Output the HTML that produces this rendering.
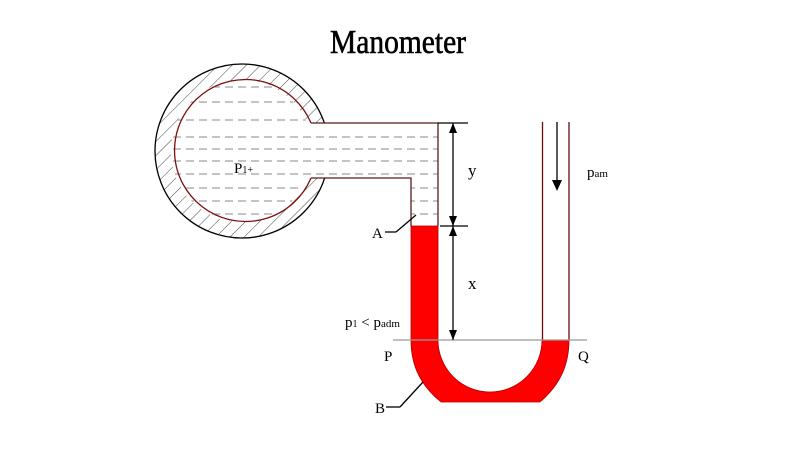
<!DOCTYPE html>
<html><head><meta charset="utf-8"><style>html,body{margin:0;padding:0;background:#fff}svg{display:block}</style></head>
<body>
<svg width="800" height="450" viewBox="0 0 800 450" xmlns="http://www.w3.org/2000/svg">
<defs>
<pattern id="hatch" patternUnits="userSpaceOnUse" width="10" height="10" patternTransform="rotate(45)">
<line x1="0" y1="0" x2="0" y2="10" stroke="#333" stroke-width="0.9"/>
</pattern>
<clipPath id="inner">
<circle cx="242" cy="151" r="71"/>
<rect x="300" y="123" width="138" height="55"/>
<rect x="411" y="170" width="27" height="56"/>
</clipPath>
<clipPath id="ring">
<path d="M242,64 A87,87 0 1,0 242,238 A87,87 0 1,0 242,64 Z M242,80 A71,71 0 1,1 242,222 A71,71 0 1,1 242,80 Z" fill-rule="evenodd"/>
</clipPath>
</defs>
<text x="398" y="53" font-family="Liberation Serif, serif" font-size="34" stroke="#000" stroke-width="0.6" text-anchor="middle" textLength="136" lengthAdjust="spacingAndGlyphs">Manometer</text>
<circle cx="242" cy="151" r="87" fill="url(#hatch)" stroke="none" clip-path="url(#ring)"/>
<circle cx="242" cy="151" r="87" fill="none" stroke="#000" stroke-width="1.3"/>
<g clip-path="url(#inner)">
<rect x="150" y="60" width="300" height="180" fill="#fff"/>
<g stroke="#888" stroke-width="1" stroke-dasharray="8,5">
<line x1="160" y1="87" x2="440" y2="87"/>
<line x1="160" y1="102" x2="440" y2="102"/>
<line x1="160" y1="120" x2="440" y2="120"/>
<line x1="160" y1="137" x2="440" y2="137"/>
<line x1="160" y1="149" x2="440" y2="149"/>
<line x1="160" y1="161" x2="440" y2="161"/>
<line x1="160" y1="174" x2="440" y2="174"/>
<line x1="160" y1="188" x2="440" y2="188"/>
<line x1="160" y1="201" x2="440" y2="201"/>
<line x1="160" y1="214" x2="440" y2="214"/>
</g>
</g>
<path d="M311,123 L438,123 L438,226 M411,226 L411,178 L311,178" fill="none" stroke="#5a1a1a" stroke-width="1.3"/>
<path d="M311,178 A71,71 0 1,1 311,123" fill="none" stroke="#7a1010" stroke-width="1.3"/>
<path d="M411,226 L438,226 L438,340 A52,52 0 0,0 542,340 L569,340 C569,365 560,385 540,402 L441,402 C420,385 411,365 411,340 Z" fill="#ff0000" stroke="#b00000" stroke-width="0.8"/>
<line x1="542.5" y1="122" x2="542.5" y2="340" stroke="#6a0a0a" stroke-width="1.3"/>
<line x1="569" y1="122" x2="569" y2="340" stroke="#6a0a0a" stroke-width="1.3"/>
<line x1="393" y1="340" x2="587" y2="340" stroke="#999" stroke-width="1.2"/>
<g stroke="#000" stroke-width="1.3">
<line x1="438" y1="123" x2="468" y2="123"/>
<line x1="440" y1="226" x2="468" y2="226"/>
<line x1="453" y1="123" x2="453" y2="340"/>
<line x1="557" y1="122" x2="557" y2="182"/>
<line x1="385" y1="232" x2="396" y2="232"/>
<line x1="396" y1="232" x2="416" y2="215"/>
<line x1="386" y1="407" x2="400" y2="407"/>
<line x1="400" y1="407" x2="423" y2="382"/>
</g>
<g fill="#000">
<polygon points="453,123 449,133 457,133"/>
<polygon points="453,226 449,216 457,216"/>
<polygon points="453,226 449,236 457,236"/>
<polygon points="453,340 449,330 457,330"/>
<polygon points="557,191 552,180 562,180"/>
</g>
<g font-family="Liberation Serif, serif" fill="#000">
<text x="234" y="173" font-size="15">P<tspan font-size="10">1+</tspan></text>
<text x="468" y="176" font-size="17">y</text>
<text x="468" y="289" font-size="17">x</text>
<text x="587" y="177" font-size="15">p<tspan font-size="11">am</tspan></text>
<text x="372" y="238" font-size="15">A</text>
<text x="345" y="327" font-size="15">p<tspan font-size="10">1</tspan> &lt; p<tspan font-size="11">adm</tspan></text>
<text x="384" y="361" font-size="15">P</text>
<text x="578" y="361" font-size="15">Q</text>
<text x="375" y="413" font-size="15">B</text>
</g>
</svg>
</body></html>
